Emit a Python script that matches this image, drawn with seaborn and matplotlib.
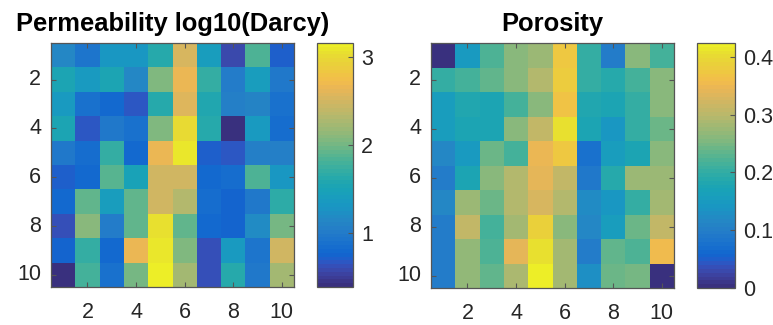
import numpy as np
import pandas as pd
import matplotlib
matplotlib.use("Agg")
import matplotlib.pyplot as plt
from matplotlib.colors import ListedColormap
import seaborn as sns

# Grid cell indices (1-based, as shown on the axes)
cells = list(range(1, 11))
tick_labels = ["2", "4", "6", "8", "10"]

# log10 permeability (Darcy) per grid cell, rows top to bottom
permeability = [
    [1.14, 0.94, 1.30, 1.30, 1.64, 2.55, 1.41, 0.58, 1.83, 0.72],
    [1.55, 1.36, 1.55, 1.14, 2.05, 2.66, 1.69, 1.03, 1.39, 0.97],
    [1.36, 0.89, 0.81, 0.67, 1.64, 2.58, 1.58, 1.05, 1.11, 0.89],
    [1.53, 0.67, 0.97, 0.89, 2.05, 3.02, 1.64, 0.39, 1.36, 0.86],
    [0.97, 0.86, 1.69, 0.81, 2.66, 3.08, 0.70, 0.68, 1.08, 1.08],
    [0.72, 0.80, 1.89, 1.50, 2.50, 2.50, 0.78, 0.86, 1.86, 1.30],
    [0.78, 1.91, 1.39, 1.91, 2.50, 2.33, 0.84, 0.74, 0.97, 1.66],
    [0.64, 2.08, 1.03, 1.94, 3.05, 1.91, 0.81, 0.75, 1.19, 2.00],
    [0.75, 1.69, 0.78, 2.66, 3.10, 2.05, 0.64, 1.36, 0.94, 2.50],
    [0.39, 1.78, 0.89, 2.02, 3.16, 2.22, 0.64, 1.61, 0.97, 2.25],
]

# Porosity (fraction) per grid cell, rows top to bottom
porosity = [
    [0.000, 0.148, 0.220, 0.263, 0.276, 0.373, 0.199, 0.093, 0.259, 0.216],
    [0.199, 0.216, 0.233, 0.259, 0.297, 0.382, 0.204, 0.187, 0.216, 0.259],
    [0.153, 0.182, 0.174, 0.216, 0.259, 0.365, 0.182, 0.178, 0.199, 0.259],
    [0.153, 0.174, 0.178, 0.259, 0.305, 0.407, 0.174, 0.144, 0.199, 0.242],
    [0.119, 0.148, 0.242, 0.216, 0.348, 0.373, 0.076, 0.157, 0.174, 0.259],
    [0.093, 0.178, 0.263, 0.293, 0.339, 0.305, 0.089, 0.187, 0.276, 0.276],
    [0.119, 0.276, 0.242, 0.297, 0.326, 0.293, 0.123, 0.140, 0.204, 0.284],
    [0.093, 0.305, 0.212, 0.280, 0.386, 0.263, 0.114, 0.153, 0.242, 0.305],
    [0.093, 0.267, 0.225, 0.343, 0.407, 0.280, 0.098, 0.237, 0.225, 0.352],
    [0.093, 0.271, 0.237, 0.288, 0.424, 0.280, 0.127, 0.242, 0.250, 0.000],
]

perm_cbar_ticks = [1, 2, 3]
perm_cbar_labels = ["1", "2", "3"]
poro_cbar_ticks = [0, 0.1, 0.2, 0.3, 0.4]
poro_cbar_labels = ["0", "0.1", "0.2", "0.3", "0.4"]

# Parula-like colormap
PARULA_RGB = [
    [0.2081, 0.1663, 0.5292], [0.2116, 0.1898, 0.5777], [0.2123, 0.2138, 0.6270],
    [0.2081, 0.2386, 0.6771], [0.1959, 0.2645, 0.7279], [0.1707, 0.2919, 0.7792],
    [0.1253, 0.3242, 0.8303], [0.0591, 0.3598, 0.8683], [0.0117, 0.3875, 0.8820],
    [0.0060, 0.4086, 0.8828], [0.0165, 0.4266, 0.8786], [0.0329, 0.4430, 0.8720],
    [0.0498, 0.4586, 0.8641], [0.0629, 0.4737, 0.8554], [0.0723, 0.4887, 0.8467],
    [0.0779, 0.5040, 0.8384], [0.0793, 0.5200, 0.8312], [0.0749, 0.5375, 0.8263],
    [0.0641, 0.5570, 0.8240], [0.0488, 0.5772, 0.8228], [0.0343, 0.5966, 0.8199],
    [0.0265, 0.6137, 0.8135], [0.0239, 0.6287, 0.8038], [0.0231, 0.6418, 0.7913],
    [0.0228, 0.6535, 0.7768], [0.0267, 0.6642, 0.7607], [0.0384, 0.6743, 0.7436],
    [0.0590, 0.6838, 0.7254], [0.0843, 0.6928, 0.7062], [0.1133, 0.7015, 0.6859],
    [0.1453, 0.7098, 0.6646], [0.1801, 0.7177, 0.6424], [0.2178, 0.7250, 0.6193],
    [0.2586, 0.7317, 0.5954], [0.3022, 0.7376, 0.5712], [0.3482, 0.7424, 0.5473],
    [0.3953, 0.7459, 0.5244], [0.4420, 0.7481, 0.5033], [0.4871, 0.7491, 0.4840],
    [0.5300, 0.7491, 0.4661], [0.5709, 0.7485, 0.4494], [0.6099, 0.7473, 0.4337],
    [0.6473, 0.7456, 0.4188], [0.6834, 0.7435, 0.4044], [0.7184, 0.7411, 0.3905],
    [0.7525, 0.7384, 0.3768], [0.7858, 0.7356, 0.3633], [0.8185, 0.7327, 0.3498],
    [0.8507, 0.7299, 0.3360], [0.8824, 0.7274, 0.3217], [0.9139, 0.7258, 0.3063],
    [0.9450, 0.7261, 0.2886], [0.9739, 0.7314, 0.2666], [0.9938, 0.7455, 0.2403],
    [0.9990, 0.7653, 0.2164], [0.9955, 0.7861, 0.1967], [0.9880, 0.8066, 0.1794],
    [0.9789, 0.8271, 0.1633], [0.9697, 0.8481, 0.1475], [0.9626, 0.8705, 0.1309],
    [0.9589, 0.8949, 0.1132], [0.9598, 0.9218, 0.0948], [0.9661, 0.9514, 0.0755],
    [0.9763, 0.9831, 0.0538],
]
# Slightly muted version of the map, as printed
_rgb = np.array(PARULA_RGB)
_rgb = 0.84 * _rgb + 0.16 * _rgb.mean(axis=1, keepdims=True)
parula = ListedColormap(_rgb, name="parula_muted")

plt.rcParams["font.family"] = ["Liberation Sans", "DejaVu Sans"]
TEXT = "#262626"
EDGE = "#555555"

W, H = 773, 325
fig = plt.figure(figsize=(W / 100, H / 100), dpi=100)


def px_box(x0, y0, x1, y1):
    return [x0 / W, 1 - y1 / H, (x1 - x0) / W, (y1 - y0) / H]


def draw_panel(values, title, ax_box, cax_box, cticks, clabels):
    ax = fig.add_axes(px_box(*ax_box))
    cax = fig.add_axes(px_box(*cax_box))
    df = pd.DataFrame(values, index=cells, columns=cells)
    sns.heatmap(df, ax=ax, cbar_ax=cax, cmap=parula, linewidths=0,
                square=False)

    pos = [c - 0.5 for c in cells if c % 2 == 0]
    ax.set_xticks(pos)
    ax.set_xticklabels(tick_labels, rotation=0)
    ax.set_yticks(pos)
    ax.set_yticklabels(tick_labels, rotation=0, va="center")
    ax.tick_params(axis="both", direction="in", length=3.5, width=0.8,
                   color=EDGE, labelsize=15.5, labelcolor=TEXT,
                   top=True, right=True)
    ax.tick_params(axis="x", pad=11)
    ax.tick_params(axis="y", pad=7)
    ax.set_xlabel("")
    ax.set_ylabel("")
    for sp in ax.spines.values():
        sp.set_visible(True)
        sp.set_color(EDGE)
        sp.set_linewidth(0.9)
    ax.set_title(title, fontsize=18.4, fontweight="bold", color="black", pad=9)

    cb = ax.collections[0].colorbar
    cb.set_ticks(cticks)
    cb.set_ticklabels(clabels)
    cb.outline.set_visible(True)
    cb.outline.set_linewidth(0.9)
    cb.outline.set_edgecolor(EDGE)
    cax.tick_params(direction="in", length=3.5, width=0.8, color=EDGE,
                    labelsize=15.5, labelcolor=TEXT, pad=6, right=True,
                    left=False)
    return ax


draw_panel(permeability, "Permeability log10(Darcy)",
           (51, 43, 294, 287), (317, 43, 353, 287),
           perm_cbar_ticks, perm_cbar_labels)
draw_panel(porosity, "Porosity",
           (431, 43, 674, 288), (697, 43, 735, 288),
           poro_cbar_ticks, poro_cbar_labels)

fig.savefig("out.png", dpi=100, facecolor="white")
